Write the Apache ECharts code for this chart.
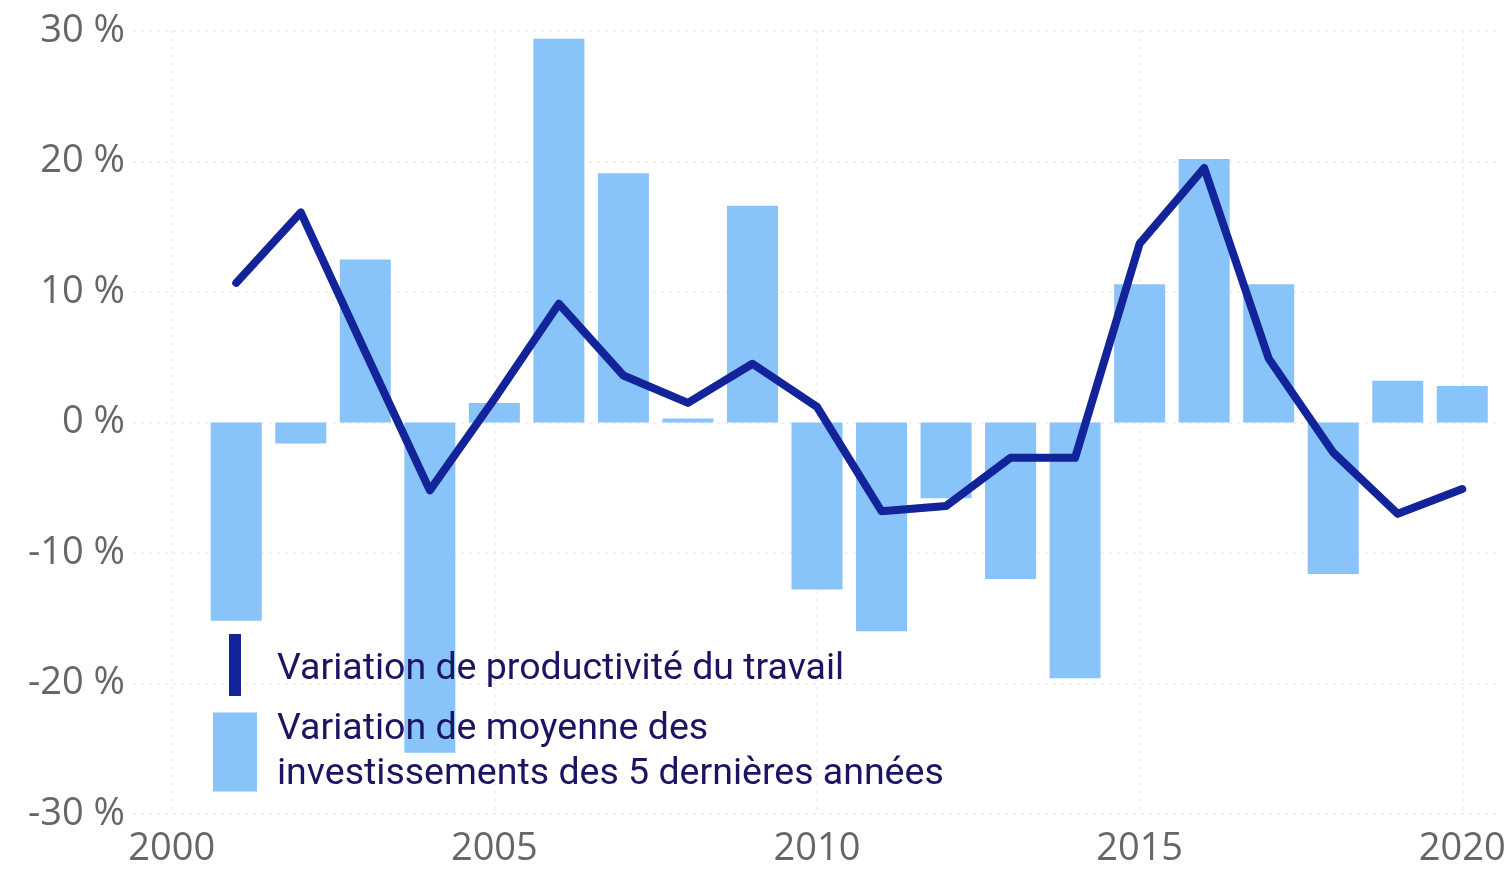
<!DOCTYPE html>
<html>
<head>
<meta charset="utf-8">
<script src="https://cdn.jsdelivr.net/npm/echarts@6/dist/echarts.min.js"></script>
<style>
html,body{margin:0;padding:0;background:#fff;}
#chart{width:1511px;height:869px;}
</style>
</head>
<body>
<div id="chart"></div>
<script>
const years = [2001,2002,2003,2004,2005,2006,2007,2008,2009,2010,2011,2012,2013,2014,2015,2016,2017,2018,2019,2020];
const investissements = [-15.2,-1.6,12.5,-25.3,1.5,29.4,19.1,0.3,16.6,-12.8,-16.0,-5.8,-12.0,-19.6,10.6,20.2,10.6,-11.6,3.2,2.8];
const productivite = [10.7,16.1,5.4,-5.2,1.8,9.1,3.6,1.5,4.5,1.2,-6.8,-6.4,-2.7,-2.7,13.7,19.5,4.9,-2.3,-7.0,-5.1];
const xTicks = [2000,2005,2010,2015,2020];
const yTicks = [-30,-20,-10,0,10,20,30];
const nameLine = 'Variation de productivité du travail';
const nameBar = 'Variation de moyenne des\ninvestissements des 5 dernières années';

const chart = echarts.init(document.getElementById('chart'));
const gridColor = '#f1f1f1';
const legendText = {fontFamily: 'Roboto', fontSize: 37.5, color: '#1a1462'};
chart.setOption({
  animation: false,
  backgroundColor: '#fff',
  grid: {left: 133, right: 10, top: 31, bottom: 55, containLabel: false},
  xAxis: {
    type: 'value', min: 1999.4, max: 2020.6,
    axisLine: {show: false}, axisTick: {show: false, customValues: xTicks},
    axisLabel: {customValues: xTicks, color: '#666', fontFamily: 'Open Sans', fontSize: 38, margin: 16, formatter: v => String(v)},
    splitLine: {show: true, lineStyle: {color: gridColor, type: [3, 5], width: 2}}
  },
  yAxis: {
    type: 'value', min: yTicks[0], max: yTicks[yTicks.length-1], interval: 10,
    axisLine: {show: false}, axisTick: {show: false},
    axisLabel: {color: '#666', fontFamily: 'Open Sans', fontSize: 38, margin: 8, formatter: v => v + ' %'},
    splitLine: {show: true, lineStyle: {color: gridColor, type: [3, 5], width: 2}}
  },
  legend: [
    {
      data: [nameLine], left: 229, top: 634, orient: 'vertical', padding: 0,
      icon: 'rect', itemWidth: 12, itemHeight: 62,
      formatter: n => '{t|' + n + '}',
      textStyle: Object.assign({}, legendText, {rich: {t: Object.assign({}, legendText, {padding: [9,0,0,31]})}}),
      selectedMode: false
    },
    {
      data: [nameBar], left: 213, top: 707, orient: 'vertical', padding: 0,
      icon: 'rect', itemWidth: 44, itemHeight: 79,
      textStyle: Object.assign({}, legendText, {lineHeight: 45, padding: [0,0,0,15]}),
      selectedMode: false
    }
  ],
  series: [
    {
      name: nameBar, type: 'bar', barWidth: 51,
      itemStyle: {color: '#88c3f9'},
      data: years.map((y, i) => [y, investissements[i]]),
      z: 2
    },
    {
      name: nameLine, type: 'line', showSymbol: false, symbol: 'none',
      lineStyle: {color: '#13239a', width: 8, join: 'round', cap: 'round'},
      itemStyle: {color: '#13239a'},
      data: years.map((y, i) => [y, productivite[i]]),
      z: 3
    }
  ]
});
</script>
</body>
</html>
